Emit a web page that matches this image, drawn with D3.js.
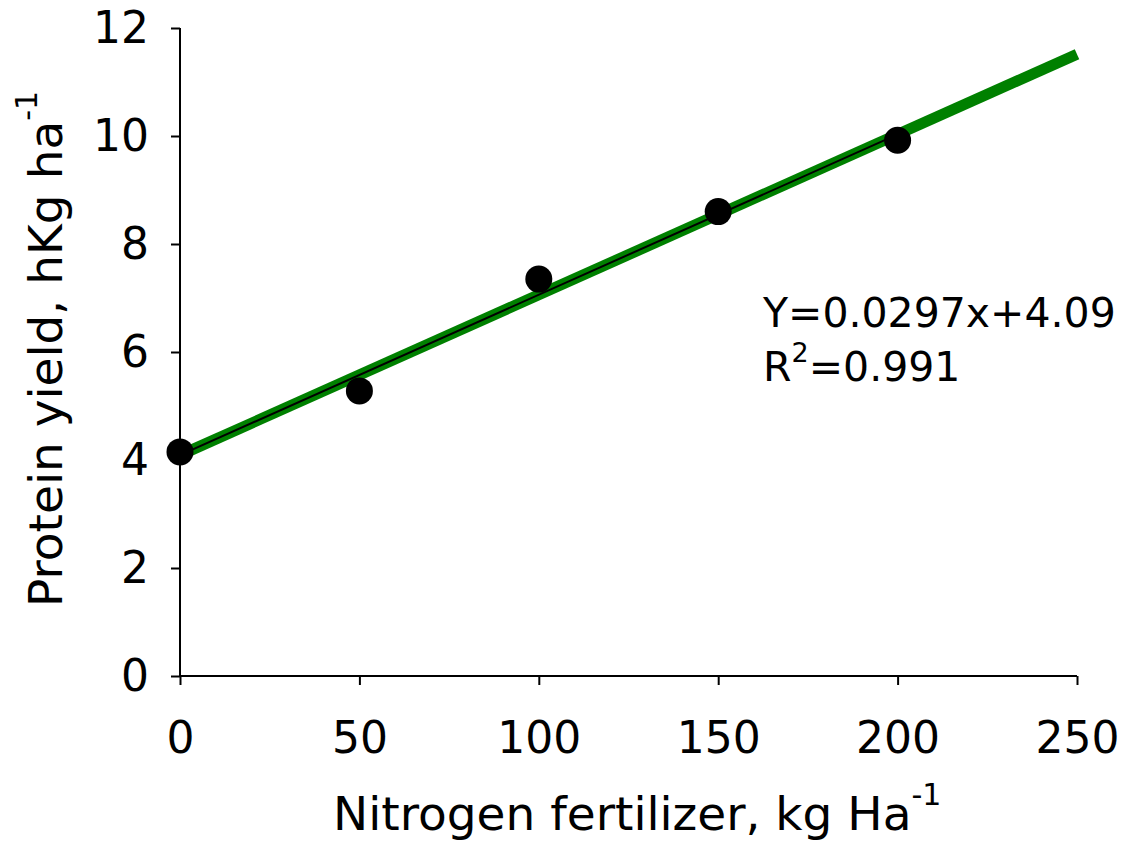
<!DOCTYPE html>
<html>
<head>
<meta charset="utf-8">
<script src="https://cdn.jsdelivr.net/npm/d3@7"></script>
<style>
  body { margin: 0; background: #fff; }
  text { font-family: "DejaVu Sans", Verdana, sans-serif; }
</style>
</head>
<body>
<svg id="chart" width="1127" height="842"></svg>
<script>
// data
var nitrogen = [0, 50, 100, 150, 200];
var protein = [4.15, 5.28, 7.35, 8.6, 9.92];
var xTicks = [0, 50, 100, 150, 200, 250];
var yTicks = [0, 2, 4, 6, 8, 10, 12];
var slope = 0.0297;
var intercept = 4.09;

var svg = d3.select("#chart");

var x = d3.scaleLinear().domain([0, 250]).range([180, 1077]);
var y = d3.scaleLinear().domain([0, 12]).range([676, 28]);

var tickFont = 44;
var eqFont = 41;
var titleFont = 47;

// axes
var xAxis = d3.axisBottom(x).tickValues(xTicks).tickSize(9).tickPadding(37).tickFormat(d3.format("d"));
var yAxis = d3.axisLeft(y).tickValues(yTicks).tickSize(9).tickPadding(22).tickFormat(d3.format("d"));

var gx = svg.append("g").attr("transform", "translate(0," + y(0) + ")").call(xAxis);
var gy = svg.append("g").attr("transform", "translate(" + x(0) + ",0)").call(yAxis);

[gx, gy].forEach(function (g) {
  g.select(".domain").attr("stroke", "#000").attr("stroke-width", 2);
  g.selectAll(".tick line").attr("stroke", "#000").attr("stroke-width", 2);
  g.selectAll(".tick text").attr("fill", "#000").attr("font-size", tickFont)
    .attr("font-family", "DejaVu Sans, Verdana, sans-serif");
});
// plain domain lines, no outer ticks
gx.select(".domain").attr("d", "M" + x(0) + ",0H" + x(250));
gy.select(".domain").attr("d", "M0," + y(12) + "V" + y(0));

// regression line, thick green over the full axis
var line = d3.line().x(function (d) { return x(d); }).y(function (d) { return y(slope * d + intercept); });

svg.append("path")
  .datum([0, 250])
  .attr("d", line)
  .attr("stroke", "#008000")
  .attr("stroke-width", 11)
  .attr("fill", "none");

// thin black line through the data range
svg.append("path")
  .datum([0, 200])
  .attr("d", line)
  .attr("stroke", "#000")
  .attr("stroke-width", 2)
  .attr("fill", "none");

// points
svg.append("g").selectAll("circle")
  .data(nitrogen)
  .enter()
  .append("circle")
  .attr("cx", function (d) { return x(d); })
  .attr("cy", function (d, i) { return y(protein[i]); })
  .attr("r", 13.5)
  .attr("fill", "#000");

// equation
svg.append("text")
  .attr("x", 763)
  .attr("y", 327)
  .attr("font-size", eqFont)
  .attr("fill", "#000")
  .text("Y=" + slope + "x+" + intercept);

var r2 = svg.append("text")
  .attr("x", 763)
  .attr("y", 381)
  .attr("font-size", eqFont)
  .attr("fill", "#000");
r2.append("tspan").text("R");
r2.append("tspan").attr("dy", -19).attr("font-size", 27).text("2");
r2.append("tspan").attr("dy", 19).text("=0.991");

// x title
var xt = svg.append("text")
  .attr("x", 333)
  .attr("y", 830)
  .attr("font-size", titleFont)
  .attr("fill", "#000");
xt.append("tspan").text("Nitrogen fertilizer, kg Ha");
xt.append("tspan").attr("dy", -25).attr("font-size", 30).text("-1");

// y title
var yt = svg.append("text")
  .attr("transform", "translate(62,607) rotate(-90)")
  .attr("font-size", titleFont)
  .attr("fill", "#000");
yt.append("tspan").text("Protein yield, hKg ha");
yt.append("tspan").attr("dy", -25).attr("font-size", 30).text("-1");
</script>
</body>
</html>
